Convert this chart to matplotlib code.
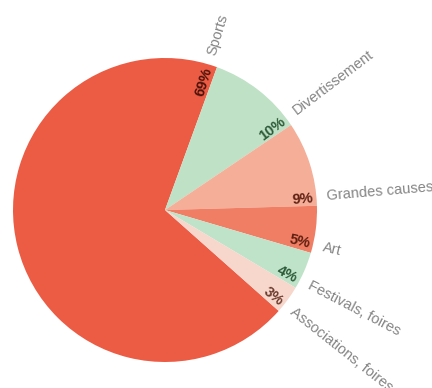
import numpy as np
import matplotlib
matplotlib.use("Agg")
import matplotlib.pyplot as plt

# Data
categories = ["Sports", "Divertissement", "Grandes causes", "Art",
              "Festivals, foires", "Associations, foires"]
shares = [69, 10, 9, 5, 4, 3]
pct_labels = ["69%", "10%", "9%", "5%", "4%", "3%"]

# Colors
slice_colors = ["#EC5B43", "#BFE1C6", "#F5AE98", "#EF7E64", "#BFE3C9", "#F7D6CB"]
pct_colors = ["#4a120a", "#2c5a38", "#5e1e10", "#5e1e10", "#2c5a38", "#6a3a2c"]

W, H = 432, 388
cx, cy, R = 165, 178, 152

fig = plt.figure(figsize=(W / 100, H / 100), dpi=100)
ax = fig.add_axes([0, 0, 1, 1])

# first boundary (Sports / Divertissement) sits at 70 degrees
start = 70 + 360 * shares[0] / sum(shares)
wedges, _ = ax.pie(shares, colors=slice_colors, startangle=start, counterclock=False,
                   center=(cx, cy), radius=R, frame=True,
                   wedgeprops=dict(linewidth=0))
ax.set_xlim(0, W)
ax.set_ylim(0, H)
ax.set_aspect("equal")
ax.axis("off")


def place(r, ang, off_px):
    # point at radius r, nudged off_px counter-clockwise from angle ang
    a = ang + np.rad2deg(off_px / r)
    t = np.deg2rad(a)
    return cx + r * np.cos(t), cy + r * np.sin(t), a


for w, name, pl, pc in zip(wedges, categories, pct_labels, pct_colors):
    edge = w.theta1  # clockwise end of slice
    x, y, a = place(162, edge, 9)
    ax.text(x, y, name, rotation=a, rotation_mode="anchor", ha="left", va="center",
            fontsize=10.5, color="#858585", family="Liberation Sans", clip_on=False)
    x, y, a = place(149, edge, 8)
    ax.text(x, y, pl, rotation=a, rotation_mode="anchor", ha="right", va="center",
            fontsize=10.5, color=pc, fontweight="bold", family="Liberation Sans")

fig.savefig("out.png", dpi=100)
